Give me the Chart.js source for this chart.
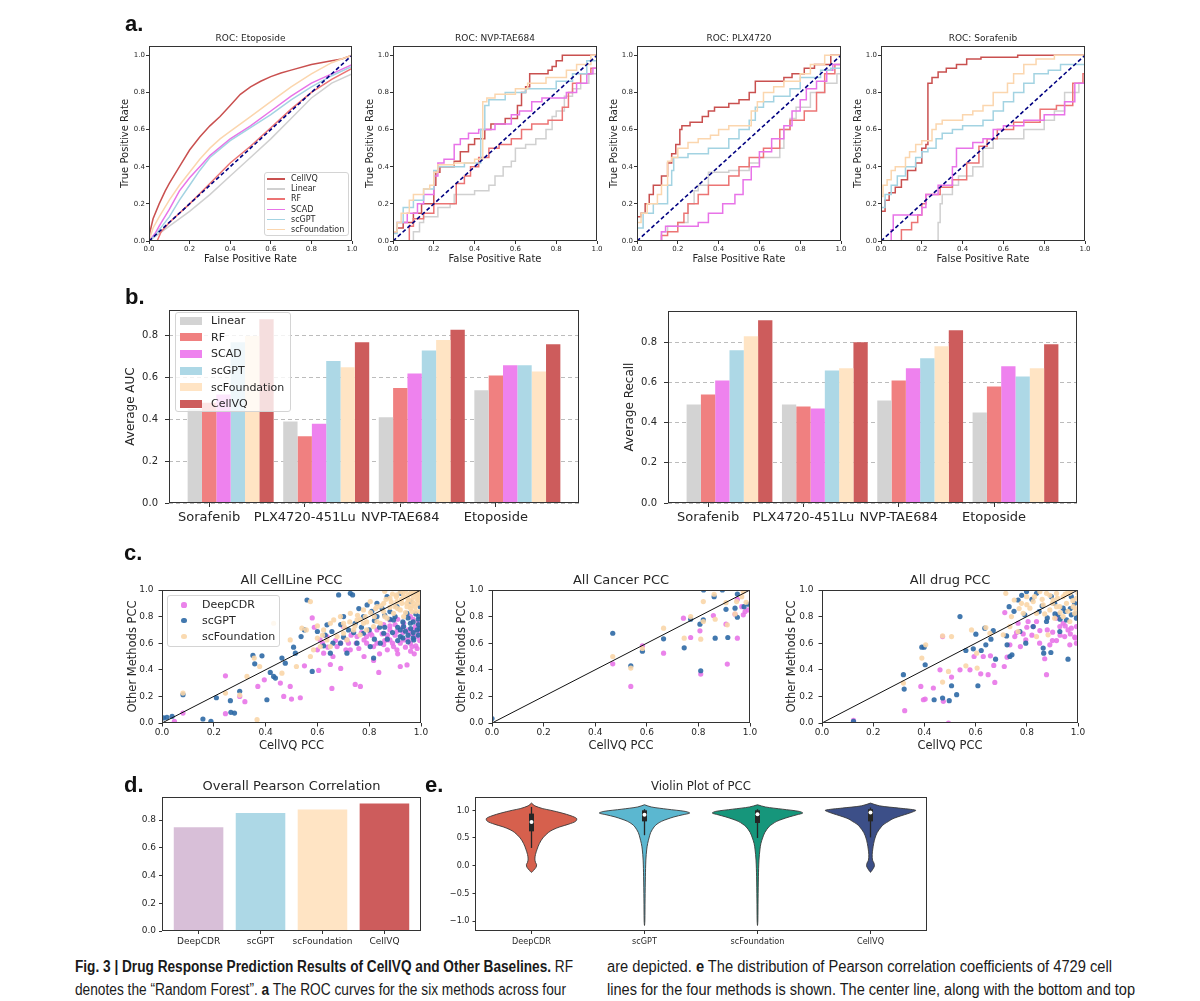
<!DOCTYPE html>
<html>
<head>
<meta charset="utf-8">
<script src="https://cdn.jsdelivr.net/npm/chart.js@4.4.1/dist/chart.umd.min.js"></script>
<style>
html,body{margin:0;padding:0;background:#fff;}
#root{position:relative;width:1200px;height:1001px;overflow:hidden;background:#fff;}
#root canvas{position:absolute;}
.letter{position:absolute;font-family:'Liberation Sans',Arial,sans-serif;font-weight:bold;font-size:22px;line-height:22px;color:#111;}
.lg{position:absolute;box-sizing:border-box;background:rgba(255,255,255,0.8);border:1px solid #d4d4d4;border-radius:3px;}
.lg span{position:absolute;white-space:nowrap;color:#262626;font-family:'DejaVu Sans',sans-serif;}
.lg i{position:absolute;display:block;}
.cap{position:absolute;white-space:nowrap;font-family:'Liberation Sans Narrow','Liberation Sans',sans-serif;font-size:16px;line-height:18px;color:#1a1a1a;transform-origin:0 50%;}
</style>
</head>
<body>
<div id="root"></div>
<script>
// ===================== DATA =====================
// panel a: ROC curves (FPR, TPR)
const rocMethods = ['CellVQ','Linear','RF','SCAD','scGPT','scFoundation'];
const rocEtoCellVQ = [[0,0],[0.005,0.05],[0.02,0.12],[0.05,0.2],[0.08,0.27],[0.1,0.31],[0.15,0.4],[0.2,0.49],[0.25,0.56],[0.3,0.62],[0.35,0.67],[0.4,0.73],[0.45,0.79],[0.5,0.83],[0.55,0.86],[0.6,0.885],[0.65,0.905],[0.7,0.92],[0.8,0.95],[0.9,0.97],[0.95,0.98],[1,1]];
const rocEtoLinear = [[0,0],[0.05,0.04],[0.1,0.08],[0.2,0.16],[0.3,0.25],[0.4,0.35],[0.5,0.45],[0.6,0.55],[0.7,0.66],[0.8,0.77],[0.85,0.81],[0.9,0.85],[1,0.9]];
const rocEtoRF = [[0,0],[0.04,0],[0.06,0.05],[0.1,0.1],[0.2,0.2],[0.3,0.31],[0.4,0.42],[0.5,0.51],[0.6,0.61],[0.7,0.71],[0.8,0.8],[0.9,0.87],[1,0.93]];
const rocEtoSCAD = [[0,0],[0.03,0.04],[0.05,0.08],[0.1,0.17],[0.15,0.27],[0.2,0.34],[0.25,0.4],[0.3,0.46],[0.4,0.55],[0.5,0.62],[0.6,0.7],[0.7,0.78],[0.8,0.85],[0.9,0.9],[1,0.95]];
const rocEtoScGPT = [[0,0],[0.03,0.03],[0.05,0.06],[0.1,0.13],[0.15,0.22],[0.2,0.3],[0.25,0.38],[0.3,0.45],[0.4,0.54],[0.5,0.61],[0.6,0.68],[0.7,0.76],[0.8,0.83],[0.9,0.89],[1,0.94]];
const rocEtoScF = [[0,0],[0.02,0.07],[0.05,0.13],[0.1,0.22],[0.15,0.3],[0.2,0.37],[0.25,0.44],[0.3,0.5],[0.35,0.55],[0.4,0.59],[0.5,0.67],[0.6,0.75],[0.7,0.83],[0.8,0.9],[0.9,0.96],[1,1]];

const rocNvpCellVQ = [[0,0],[0.02,0.05],[0.05,0.07],[0.1,0.1],[0.14,0.15],[0.2,0.2],[0.21,0.3],[0.23,0.37],[0.3,0.4],[0.33,0.43],[0.37,0.48],[0.4,0.52],[0.45,0.55],[0.48,0.6],[0.55,0.63],[0.61,0.66],[0.63,0.73],[0.65,0.8],[0.67,0.83],[0.76,0.9],[0.78,0.92],[0.8,0.94],[0.83,0.97],[1,1]];
const rocNvpLinear = [[0,0],[0.1,0],[0.13,0.05],[0.15,0.1],[0.22,0.13],[0.28,0.18],[0.3,0.2],[0.4,0.25],[0.47,0.27],[0.5,0.3],[0.54,0.35],[0.58,0.4],[0.6,0.43],[0.65,0.5],[0.7,0.52],[0.75,0.55],[0.78,0.6],[0.8,0.67],[0.84,0.7],[0.88,0.78],[0.92,0.82],[0.96,0.85],[1,0.9]];
const rocNvpRF = [[0,0],[0.08,0],[0.1,0.08],[0.15,0.12],[0.2,0.15],[0.31,0.2],[0.35,0.31],[0.38,0.35],[0.42,0.4],[0.47,0.45],[0.52,0.5],[0.58,0.52],[0.63,0.55],[0.68,0.6],[0.76,0.63],[0.83,0.65],[0.86,0.72],[0.88,0.8],[0.92,0.85],[0.97,0.9],[1,0.93]];
const rocNvpSCAD = [[0,0],[0.02,0.05],[0.07,0.1],[0.12,0.15],[0.15,0.2],[0.2,0.25],[0.22,0.35],[0.25,0.42],[0.3,0.44],[0.33,0.52],[0.37,0.55],[0.42,0.58],[0.5,0.6],[0.58,0.63],[0.62,0.68],[0.68,0.7],[0.73,0.75],[0.85,0.77],[0.9,0.8],[0.95,0.85],[0.98,0.9],[1,0.93]];
const rocNvpScGPT = [[0,0],[0.02,0.04],[0.05,0.1],[0.1,0.18],[0.15,0.22],[0.2,0.28],[0.22,0.38],[0.35,0.4],[0.43,0.42],[0.45,0.6],[0.47,0.73],[0.55,0.76],[0.65,0.8],[0.8,0.82],[0.88,0.86],[0.95,0.9],[1,0.97]];
const rocNvpScF = [[0,0],[0.02,0.05],[0.04,0.1],[0.08,0.15],[0.1,0.22],[0.15,0.25],[0.18,0.28],[0.2,0.3],[0.22,0.37],[0.3,0.41],[0.4,0.42],[0.44,0.44],[0.46,0.75],[0.5,0.77],[0.6,0.79],[0.66,0.82],[0.75,0.85],[0.85,0.88],[0.9,0.92],[0.97,0.95],[1,1]];

const rocPlxCellVQ = [[0,0],[0.02,0.13],[0.04,0.15],[0.06,0.2],[0.08,0.25],[0.12,0.3],[0.15,0.35],[0.17,0.42],[0.19,0.47],[0.21,0.52],[0.22,0.6],[0.26,0.62],[0.32,0.64],[0.35,0.67],[0.38,0.7],[0.45,0.72],[0.5,0.74],[0.55,0.76],[0.58,0.8],[0.61,0.86],[0.72,0.86],[0.76,0.88],[0.82,0.9],[0.87,0.93],[0.95,0.95],[1,1]];
const rocPlxLinear = [[0,0],[0.12,0],[0.15,0.05],[0.2,0.08],[0.25,0.1],[0.28,0.2],[0.3,0.27],[0.35,0.3],[0.45,0.37],[0.55,0.38],[0.6,0.42],[0.7,0.45],[0.72,0.5],[0.75,0.6],[0.78,0.66],[0.85,0.72],[0.92,0.8],[0.98,0.85],[1,0.9]];
const rocPlxRF = [[0,0],[0.12,0],[0.15,0.03],[0.2,0.05],[0.23,0.1],[0.25,0.15],[0.3,0.2],[0.35,0.25],[0.45,0.3],[0.5,0.35],[0.55,0.4],[0.62,0.45],[0.7,0.5],[0.75,0.6],[0.82,0.65],[0.88,0.7],[0.92,0.8],[0.97,0.9],[1,0.95]];
const rocPlxSCAD = [[0,0],[0.12,0],[0.14,0.05],[0.3,0.08],[0.35,0.1],[0.42,0.15],[0.48,0.2],[0.52,0.25],[0.56,0.33],[0.6,0.4],[0.66,0.48],[0.72,0.55],[0.76,0.62],[0.8,0.7],[0.83,0.76],[0.88,0.82],[0.93,0.86],[0.96,0.92],[1,0.95]];
const rocPlxScGPT = [[0,0],[0.03,0.07],[0.08,0.15],[0.15,0.2],[0.17,0.3],[0.18,0.38],[0.25,0.45],[0.35,0.47],[0.45,0.5],[0.5,0.55],[0.55,0.6],[0.58,0.65],[0.62,0.72],[0.67,0.75],[0.75,0.78],[0.8,0.82],[0.9,0.88],[0.95,0.92],[1,0.93]];
const rocPlxScF = [[0,0],[0.02,0.1],[0.05,0.15],[0.1,0.2],[0.12,0.25],[0.15,0.3],[0.17,0.43],[0.2,0.45],[0.25,0.5],[0.3,0.53],[0.36,0.55],[0.4,0.57],[0.45,0.6],[0.56,0.62],[0.59,0.7],[0.62,0.75],[0.67,0.8],[0.72,0.83],[0.8,0.86],[0.85,0.9],[0.92,0.95],[1,1]];

const rocSorCellVQ = [[0,0],[0.02,0.16],[0.04,0.22],[0.07,0.26],[0.1,0.29],[0.13,0.33],[0.17,0.38],[0.2,0.42],[0.22,0.5],[0.23,0.52],[0.25,0.85],[0.28,0.88],[0.32,0.91],[0.37,0.93],[0.42,0.95],[0.49,0.98],[0.67,0.99],[1,1]];
const rocSorLinear = [[0,0],[0.28,0],[0.29,0.1],[0.3,0.2],[0.35,0.25],[0.38,0.3],[0.45,0.35],[0.5,0.4],[0.55,0.5],[0.7,0.55],[0.8,0.6],[0.85,0.65],[0.9,0.7],[0.97,0.8],[1,0.85]];
const rocSorRF = [[0,0],[0.1,0],[0.15,0.06],[0.18,0.1],[0.2,0.14],[0.22,0.2],[0.29,0.25],[0.35,0.29],[0.42,0.33],[0.48,0.42],[0.52,0.51],[0.57,0.55],[0.65,0.6],[0.78,0.64],[0.86,0.71],[0.94,0.73],[0.99,0.85],[1,0.9]];
const rocSorSCAD = [[0,0],[0.05,0],[0.06,0.06],[0.2,0.14],[0.22,0.18],[0.28,0.25],[0.35,0.3],[0.37,0.4],[0.45,0.5],[0.5,0.53],[0.55,0.55],[0.6,0.6],[0.7,0.62],[0.8,0.65],[0.9,0.68],[0.95,0.75],[1,0.85]];
const rocSorScGPT = [[0,0],[0.02,0.18],[0.05,0.25],[0.08,0.3],[0.12,0.35],[0.17,0.4],[0.2,0.45],[0.23,0.48],[0.27,0.5],[0.3,0.55],[0.35,0.58],[0.4,0.6],[0.5,0.62],[0.55,0.65],[0.6,0.7],[0.65,0.75],[0.7,0.8],[0.75,0.85],[0.82,0.9],[0.88,0.92],[1,0.95]];
const rocSorScF = [[0,0],[0.01,0.24],[0.03,0.3],[0.05,0.33],[0.07,0.38],[0.12,0.4],[0.14,0.45],[0.17,0.48],[0.2,0.52],[0.25,0.54],[0.27,0.6],[0.3,0.63],[0.4,0.65],[0.45,0.68],[0.5,0.7],[0.55,0.73],[0.62,0.8],[0.65,0.85],[0.7,0.9],[0.76,0.95],[0.85,0.98],[1,1]];
const rocChance = [[0,0],[1,1]];
const rocTicks = [0,0.2,0.4,0.6,0.8,1.0];

// panel b: grouped bars
const barDrugs = ['Sorafenib','PLX4720-451Lu','NVP-TAE684','Etoposide'];
const barMethods = ['Linear','RF','SCAD','scGPT','scFoundation','CellVQ'];
const aucLinear = [0.45,0.39,0.41,0.54];
const aucRF = [0.48,0.32,0.55,0.61];
const aucSCAD = [0.52,0.38,0.62,0.66];
const aucScGPT = [0.77,0.68,0.73,0.66];
const aucScFoundation = [0.80,0.65,0.78,0.63];
const aucCellVQ = [0.88,0.77,0.83,0.76];
const recLinear = [0.49,0.49,0.51,0.45];
const recRF = [0.54,0.48,0.61,0.58];
const recSCAD = [0.61,0.47,0.67,0.68];
const recScGPT = [0.76,0.66,0.72,0.63];
const recScFoundation = [0.83,0.67,0.78,0.67];
const recCellVQ = [0.91,0.80,0.86,0.79];
const barTicks = [0,0.2,0.4,0.6,0.8];

// panel c: scatter (CellVQ PCC, other method PCC)
const cellLineDeepCDR = [[0.048,0.013],[0.081,0.075],[0.245,0.355],[0.245,0.07],[0.30,0.2],[0.32,0.16],[0.37,0.275],[0.395,0.325],[0.457,0.3],[0.47,0.2],[0.495,0.275],[0.5,0.18],[0.534,0.19],[0.58,0.79],[0.588,0.72],[0.6,0.55],[0.605,0.395],[0.624,0.525],[0.65,0.44],[0.656,0.26],[0.69,0.41],[0.746,0.29],[0.766,0.275],[0.78,0.5],[0.817,0.47],[0.837,0.38],[0.856,0.59],[0.869,0.625],[0.894,0.575],[0.92,0.425],[0.946,0.437],[0.965,0.575],[0.974,0.52],[0.985,0.56],[0.753,0.65],[0.78,0.625],[0.804,0.675],[0.83,0.7],[0.856,0.74],[0.88,0.775],[0.907,0.69],[0.933,0.75],[0.959,0.675],[0.978,0.725],[0.99,0.76],[0.933,0.625],[0.70,0.725],[0.676,0.575],[0.727,0.55],[0.637,0.65],[0.907,0.55],[0.959,0.6],[0.88,0.625],[0.817,0.575],[0.79,0.65],[0.959,0.8],[0.985,0.65],[0.714,0.625],[0.611,0.625],[0.84,0.52],[0.87,0.66],[0.92,0.6],[0.95,0.7],[0.995,0.62],[0.97,0.78],[0.9,0.74],[0.76,0.56],[0.72,0.6],[0.66,0.5],[0.55,0.43],
  [0.86,0.62],[0.88,0.7],[0.9,0.66],[0.93,0.68],[0.95,0.63],[0.97,0.66],[0.99,0.69],[0.98,0.58],[0.96,0.54],[0.94,0.57],[0.91,0.52],[0.89,0.6],[0.87,0.55],[0.85,0.67],[0.83,0.6],[0.81,0.66],[0.79,0.6],[0.77,0.68],[0.75,0.6],[0.73,0.66],[0.71,0.55],[0.69,0.6],[0.67,0.62],[0.64,0.57],[0.62,0.6],[0.99,0.73],[0.97,0.7],[0.93,0.72],[0.91,0.78],[0.88,0.73]];
const cellLineScGPT = [[0.006,0.038],[0.019,0.043],[0.039,0.05],[0.081,0.213],[0.158,0.03],[0.189,0.013],[0.21,0.19],[0.264,0.168],[0.30,0.238],[0.266,0.08],[0.28,0.075],[0.351,0.508],[0.358,0.445],[0.386,0.505],[0.405,0.175],[0.418,0.38],[0.431,0.35],[0.438,0.338],[0.463,0.488],[0.476,0.45],[0.508,0.57],[0.515,0.525],[0.537,0.65],[0.55,0.7],[0.56,0.925],[0.58,0.388],[0.6,0.688],[0.624,0.58],[0.65,0.525],[0.656,0.688],[0.682,0.963],[0.689,0.6],[0.701,0.645],[0.727,0.975],[0.736,0.963],[0.753,0.6],[0.778,0.675],[0.792,0.888],[0.817,0.488],[0.83,0.8],[0.869,0.95],[0.907,0.875],[0.92,0.65],[0.946,0.825],[0.959,0.75],[0.972,0.625],[0.991,0.8],[0.985,0.7],[0.933,0.725],[0.894,0.775],[0.856,0.675],[0.843,0.6],[0.804,0.575],[0.746,0.75],[0.701,0.8],[0.637,0.738],[0.88,0.838],[0.959,0.913],[0.997,0.875],[0.92,0.975],[0.714,0.525],[0.778,0.8],[0.97,0.68],[0.99,0.74],[0.95,0.66],[0.91,0.62],[0.86,0.72],[0.82,0.63],[0.77,0.72],[0.74,0.68],
  [0.93,0.76],[0.95,0.79],[0.97,0.76],[0.99,0.78],[0.98,0.82],[0.96,0.71],[0.94,0.69],[0.92,0.7],[0.9,0.8],[0.88,0.78],[0.86,0.81],[0.84,0.72],[0.82,0.77],[0.8,0.7],[0.99,0.66],[0.97,0.64],[0.95,0.61],[0.93,0.64],[0.91,0.72],[0.89,0.68],[0.87,0.63],[0.85,0.86],[0.83,0.9],[0.81,0.84],[0.76,0.86],[0.72,0.7],[0.69,0.74],[0.66,0.6],[0.63,0.66],[0.995,0.71]];
const cellLineScFoundation = [[0.081,0.225],[0.245,0.225],[0.3,0.21],[0.328,0.35],[0.356,0.488],[0.367,0.025],[0.377,0.425],[0.431,0.75],[0.463,0.375],[0.495,0.625],[0.519,0.425],[0.54,0.713],[0.557,0.7],[0.573,0.913],[0.6,0.638],[0.624,0.7],[0.65,0.75],[0.676,0.65],[0.701,0.75],[0.727,0.825],[0.753,0.775],[0.778,0.85],[0.804,0.913],[0.83,0.875],[0.856,0.9],[0.88,0.938],[0.907,0.963],[0.933,0.95],[0.959,0.975],[0.985,0.963],[0.972,0.9],[0.946,0.875],[0.92,0.85],[0.894,0.825],[0.869,0.788],[0.843,0.75],[0.817,0.725],[0.79,0.7],[0.765,0.663],[0.74,0.7],[0.714,0.625],[0.689,0.8],[0.663,0.775],[0.637,0.625],[0.611,0.575],[0.585,0.55],[0.573,0.5],[0.991,0.925],[0.978,0.875],[0.991,0.988],[0.952,0.925],[0.926,0.9],[0.907,0.913],[0.965,0.838],[0.997,0.838],[0.933,0.8],[0.9,0.875],[0.778,0.75],[0.83,0.763],[0.856,0.838],[0.701,0.675],[0.65,0.575],[0.94,0.99],[0.97,0.95],[0.99,0.9],[0.95,0.93],[0.92,0.99],[0.98,0.98],[0.89,0.97],[0.86,0.99],[0.96,0.88],[0.995,0.95],
  [0.93,0.98],[0.95,0.96],[0.97,0.99],[0.99,0.97],[0.985,0.93],[0.965,0.92],[0.945,0.9],[0.925,0.93],[0.905,0.95],[0.885,0.91],[0.865,0.93],[0.845,0.88],[0.825,0.86],[0.805,0.83],[0.785,0.8],[0.765,0.78],[0.745,0.73],[0.725,0.76],[0.705,0.72],[0.96,0.86],[0.98,0.84],[0.94,0.83],[0.91,0.86],[0.88,0.87],[0.86,0.8],[0.82,0.8],[0.79,0.76],[0.755,0.81],[0.62,0.66],[0.6,0.73]];
const cancerDeepCDR = [[0.468,0.445],[0.538,0.275],[0.583,0.58],[0.665,0.525],[0.742,0.788],[0.77,0.643],[0.806,0.693],[0.809,0.368],[0.858,0.808],[0.907,0.743],[0.912,0.443],[0.942,0.818],[0.951,0.93],[0.951,0.638],[0.968,0.875],[0.974,0.813],[0.981,0.838],[0.994,0.85]];
const cancerScGPT = [[0,0.033],[0.468,0.675],[0.538,0.43],[0.583,0.54],[0.665,0.633],[0.745,0.565],[0.77,0.78],[0.806,0.743],[0.819,0.775],[0.809,0.393],[0.861,0.95],[0.865,0.638],[0.893,1.0],[0.907,0.855],[0.914,0.643],[0.942,0.863],[0.951,0.97],[0.951,0.795],[0.977,0.875],[0.994,0.893],[0.82,1.0]];
const cancerScFoundation = [[0.468,0.5],[0.538,0.413],[0.583,0.56],[0.665,0.713],[0.745,0.638],[0.77,0.8],[0.809,0.63],[0.819,0.763],[0.819,0.913],[0.861,0.968],[0.865,0.78],[0.907,0.905],[0.912,0.738],[0.942,0.82],[0.948,0.913],[0.974,0.988],[0.985,0.908],[0.968,0.95]];
const drugDeepCDR = [[0.123,0.02],[0.323,0.093],[0.386,0.275],[0.396,0.175],[0.403,0.18],[0.435,0.263],[0.461,0.4],[0.471,0.65],[0.474,0.163],[0.494,0.0],[0.506,0.345],[0.539,0.4],[0.578,0.4],[0.594,0.5],[0.62,0.37],[0.63,0.5],[0.649,0.363],[0.658,0.505],[0.671,0.433],[0.675,0.305],[0.712,0.425],[0.714,0.83],[0.723,0.495],[0.734,0.588],[0.753,0.65],[0.766,0.75],[0.775,0.575],[0.786,0.67],[0.796,0.625],[0.805,0.763],[0.825,0.725],[0.838,0.763],[0.851,0.695],[0.87,0.483],[0.877,0.363],[0.89,0.588],[0.901,0.683],[0.916,0.62],[0.929,0.725],[0.948,0.65],[0.968,0.588],[0.974,0.713],[0.987,0.645],[0.994,0.6],[0.961,0.7],[0.916,0.788],[0.942,0.75],[0.994,0.725],
  [0.93,0.66],[0.95,0.73],[0.97,0.67],[0.99,0.64],[0.9,0.62],[0.88,0.7],[0.85,0.6],[0.82,0.66],[0.8,0.72],[0.76,0.68]];
const drugScGPT = [[0.123,0.013],[0.318,0.363],[0.321,0.255],[0.39,0.57],[0.399,0.57],[0.403,0.438],[0.438,0.175],[0.471,0.188],[0.497,0.168],[0.506,0.28],[0.526,0.213],[0.539,0.8],[0.562,0.545],[0.591,0.558],[0.601,0.668],[0.609,0.28],[0.622,0.545],[0.636,0.713],[0.64,0.588],[0.66,0.63],[0.669,0.695],[0.678,0.48],[0.721,0.655],[0.723,0.588],[0.734,0.5],[0.731,0.875],[0.742,0.513],[0.766,0.925],[0.773,0.688],[0.792,0.813],[0.796,0.6],[0.799,0.988],[0.838,0.975],[0.848,0.838],[0.864,0.563],[0.866,0.525],[0.877,0.763],[0.894,0.53],[0.909,0.9],[0.922,0.813],[0.942,0.863],[0.961,0.48],[0.974,0.813],[0.987,0.9],[0.994,0.788],[0.955,0.775],[0.929,0.688],[0.825,0.725],[0.896,0.95],[0.974,0.95],
  [0.95,0.84],[0.97,0.86],[0.99,0.82],[0.93,0.78],[0.91,0.82],[0.88,0.79],[0.86,0.88],[0.82,0.93],[0.78,0.96],[0.75,0.84]];
const drugScFoundation = [[0.318,0.3],[0.39,0.488],[0.405,0.588],[0.471,0.655],[0.471,0.308],[0.494,0.388],[0.506,0.65],[0.562,0.43],[0.584,0.7],[0.604,0.525],[0.606,0.413],[0.64,0.718],[0.656,0.675],[0.708,0.663],[0.718,0.975],[0.734,0.725],[0.751,0.925],[0.766,0.688],[0.779,0.9],[0.786,0.825],[0.799,0.95],[0.812,0.863],[0.825,0.913],[0.838,0.825],[0.851,0.988],[0.864,0.888],[0.877,0.975],[0.89,0.85],[0.903,0.925],[0.916,0.975],[0.929,0.875],[0.942,0.95],[0.955,0.9],[0.968,0.975],[0.981,0.875],[0.994,0.938],[0.987,0.825],[0.968,0.763],[0.942,0.8],[0.916,0.875],[0.838,0.65],[0.883,0.663],[0.909,0.788],[1.0,0.975],[0.974,1.0],[0.961,0.988],
  [0.83,0.95],[0.86,0.93],[0.89,0.96],[0.92,0.94],[0.95,0.97],[0.98,0.92],[0.99,0.86],[0.96,0.84],[0.93,0.83],[0.9,0.9],[0.87,0.82],[0.8,0.89],[0.77,0.86],[0.74,0.8]];
const diagLine = [[0,0],[1,1]];
const pccTicks = [0,0.2,0.4,0.6,0.8,1.0];

// panel d: overall Pearson correlation
const overallNames = ['DeepCDR','scGPT','scFoundation','CellVQ'];
const overallPCC = [0.749,0.851,0.876,0.921];
const overallTicks = [0,0.2,0.4,0.6,0.8];

// panel e: violin outlines [PCC, half width] from top tip to bottom tip, and box stats
const violinNames = ['DeepCDR','scGPT','scFoundation','CellVQ'];
const violinDeepCDR = [[1.13,0],[1.08,0.03],[1.03,0.1],[1.0,0.17],[0.95,0.27],[0.9,0.35],[0.85,0.4],[0.8,0.39],[0.75,0.33],[0.7,0.25],[0.65,0.19],[0.6,0.15],[0.5,0.1],[0.4,0.07],[0.3,0.05],[0.2,0.035],[0.12,0.03],[0.06,0.035],[0.02,0.045],[-0.03,0.04],[-0.08,0.02],[-0.12,0]];
const violinScGPT = [[1.1,0],[1.06,0.06],[1.02,0.2],[0.98,0.36],[0.95,0.4],[0.92,0.34],[0.88,0.26],[0.84,0.2],[0.8,0.15],[0.75,0.11],[0.7,0.085],[0.6,0.055],[0.5,0.04],[0.4,0.028],[0.3,0.02],[0.1,0.012],[-0.2,0.008],[-0.6,0.005],[-1.0,0.003],[-1.08,0]];
const violinScFoundation = [[1.1,0],[1.06,0.07],[1.02,0.22],[0.98,0.37],[0.95,0.4],[0.92,0.35],[0.88,0.28],[0.84,0.22],[0.8,0.17],[0.75,0.13],[0.7,0.1],[0.6,0.065],[0.5,0.045],[0.4,0.03],[0.3,0.022],[0.1,0.013],[-0.2,0.008],[-0.6,0.005],[-1.0,0.003],[-1.08,0]];
const violinCellVQ = [[1.13,0],[1.08,0.08],[1.04,0.25],[1.0,0.4],[0.96,0.36],[0.92,0.3],[0.88,0.24],[0.84,0.19],[0.8,0.16],[0.75,0.12],[0.7,0.095],[0.6,0.06],[0.5,0.04],[0.4,0.028],[0.3,0.02],[0.2,0.015],[0.1,0.018],[0.05,0.03],[0.0,0.035],[-0.05,0.025],[-0.1,0.008],[-0.12,0]];
const whiskerLow = [0.32,0.55,0.50,0.51];
const whiskerHigh = [1.06,1.02,1.02,1.05];
const boxQ1 = [0.62,0.80,0.77,0.80];
const boxQ3 = [0.94,1.00,1.00,1.02];
const boxMedian = [0.79,0.92,0.93,0.96];
const violinTicks = [-1.0,-0.5,0,0.5,1.0];

// ===================== STYLE / HELPERS =====================
const FONT = "'DejaVu Sans', sans-serif";
const FONT_C = "'DejaVu Sans Condensed', 'DejaVu Sans', sans-serif";
const AXC = '#333333';
const TXT = '#262626';
const barColors = {Linear:'#d3d3d3', RF:'#f08080', SCAD:'#ee82ee', scGPT:'#add8e6', scFoundation:'#ffe4c4', CellVQ:'#cd5c5c'};
const rocColors = {CellVQ:'#c9504f', Linear:'#d0d0d0', RF:'#ec7474', SCAD:'#e873e8', scGPT:'#a3d3e2', scFoundation:'#fbd6ae'};
const scatColors = {DeepCDR:'rgba(232,118,232,0.9)', scGPT:'rgba(45,105,165,0.9)', scFoundation:'rgba(250,214,168,0.9)'};
const overallColors = ['#d8bfd8','#add8e6','#ffe4c4','#cd5c5c'];
const violinColors = ['#d6604d','#5bb7d0','#16967b','#3c4f88'];

Chart.defaults.animation = false;
Chart.defaults.font.family = FONT;
Chart.defaults.color = TXT;
Chart.defaults.events = [];
const root = document.getElementById('root');
const P = a => a.map(p => ({x: p[0], y: p[1]}));

const framePlugin = {
  id: 'frame',
  afterDatasetsDraw(chart) {
    const a = chart.chartArea, ctx = chart.ctx;
    ctx.save();
    ctx.strokeStyle = AXC; ctx.lineWidth = 1;
    const l = Math.round(a.left) + 0.5, t = Math.round(a.top) + 0.5;
    const r = Math.round(a.right) - 0.5, b = Math.round(a.bottom) - 0.5;
    ctx.strokeRect(l, t, r - l, b - t);
    ctx.restore();
  }
};

function axisCfg(o, pos, size) {
  return {
    type: 'linear', position: pos, min: o.min, max: o.max, bounds: 'data', offset: false,
    afterBuildTicks: s => { s.ticks = o.ticks.map(v => ({value: v})); },
    afterFit: s => { if (pos === 'left') s.width = size; else s.height = size; },
    ticks: {autoSkip: false, maxRotation: 0, minRotation: 0, padding: o.pad ?? 2, color: TXT,
            font: {family: o.family || FONT, size: o.fs}, callback: o.fmt || (v => v.toFixed(1))},
    grid: {display: true, offset: false, drawOnChartArea: !!o.gridOn, drawTicks: true,
           tickLength: o.tl ?? 3, tickWidth: 1, tickColor: AXC,
           color: o.gridColor || 'rgba(0,0,0,0)', lineWidth: 1},
    border: {display: false, dash: o.dash || []},
    title: o.title ? {display: true, text: o.title, color: TXT, padding: 0,
                      font: {family: o.family || FONT, size: o.tfs}} : {display: false}
  };
}

function makeChart(box, o) {
  const tl = o.title ? o.title.size * 1.2 : 0;
  const mT = o.title ? Math.round(box.t - o.title.y + tl / 2 + 1) : (o.mT ?? 8);
  const mL = o.y.title ? Math.round(box.l - o.y.titleX + o.y.tfs * 0.6) : (o.mL ?? 40);
  const mB = o.x.title ? Math.round(o.x.titleY - box.b + o.x.tfs * 0.6) : (o.mB ?? 24);
  const mR = o.mR ?? 14;
  const left = box.l - mL, top = box.t - mT;
  const w = box.r - box.l + mL + mR, h = box.b - box.t + mT + mB;
  const c = document.createElement('canvas');
  c.width = w; c.height = h;
  Object.assign(c.style, {left: left + 'px', top: top + 'px', width: w + 'px', height: h + 'px'});
  root.appendChild(c);
  const plugins = {legend: {display: false}, tooltip: {enabled: false}};
  if (o.title) {
    const pt = Math.max(0, o.title.y - top - tl / 2);
    plugins.title = {display: true, text: o.title.text, fullSize: false, color: TXT,
      font: {family: o.title.family || FONT, size: o.title.size, weight: 'normal'},
      padding: {top: pt, bottom: Math.max(0, mT - tl - pt)}};
  }
  return new Chart(c, {
    type: o.type,
    data: {datasets: o.datasets},
    options: {
      responsive: false, maintainAspectRatio: false, animation: false, devicePixelRatio: 1, events: [],
      layout: {padding: {left: 0, bottom: 0, right: mR, top: o.title ? 0 : mT}},
      scales: {x: axisCfg(o.x, 'bottom', mB), y: axisCfg(o.y, 'left', mL)},
      plugins
    },
    plugins: [framePlugin]
  });
}

function addLegend(x, y, w, h, rows, o) {
  const d = document.createElement('div'); d.className = 'lg';
  Object.assign(d.style, {left: x + 'px', top: y + 'px', width: w + 'px', height: h + 'px'});
  rows.forEach(r => {
    const ry = r.y - y - 1;
    const sw = document.createElement('i');
    if (o.kind === 'line') {
      Object.assign(sw.style, {left: (o.sx - x - 1) + 'px', width: o.sw + 'px', top: (ry - 0.75) + 'px', height: '1.5px', background: r.color});
    } else if (o.kind === 'rect') {
      Object.assign(sw.style, {left: (o.sx - x - 1) + 'px', width: o.sw + 'px', top: (ry - o.sh / 2) + 'px', height: o.sh + 'px', background: r.color});
    } else {
      Object.assign(sw.style, {left: (o.sx - x - 1 - o.r) + 'px', width: 2 * o.r + 'px', top: (ry - o.r) + 'px', height: 2 * o.r + 'px', background: r.color, borderRadius: '50%'});
    }
    d.appendChild(sw);
    const t = document.createElement('span');
    t.textContent = r.label;
    Object.assign(t.style, {left: (o.tx - x - 1) + 'px', top: (ry - o.fs * 0.6) + 'px', fontSize: o.fs + 'px', lineHeight: (o.fs * 1.2) + 'px'});
    d.appendChild(t);
  });
  root.appendChild(d);
}

function addLetter(txt, x, baseline) {
  const d = document.createElement('div'); d.className = 'letter';
  d.textContent = txt;
  Object.assign(d.style, {left: x + 'px', top: (baseline - 18.6) + 'px'});
  root.appendChild(d);
}

// ===================== PANEL a: ROC =====================
function rocChart(box, titleText, ylabX, series, stepped) {
  const order = {CellVQ: 6, Linear: 5, RF: 4, SCAD: 3, scGPT: 2, scFoundation: 1};
  const ds = rocMethods.map((m, k) => ({
    label: m, data: P(series[k]), borderColor: rocColors[m], borderWidth: 1.5,
    pointRadius: 0, fill: false, stepped: stepped ? 'after' : false, tension: 0, order: order[m]
  }));
  ds.push({label: 'chance', data: P(rocChance), borderColor: '#000080', borderWidth: 1.6,
           borderDash: [4, 2.5], pointRadius: 0, fill: false, order: 0});
  makeChart(box, {
    type: 'line', datasets: ds, mR: 10,
    title: {text: titleText, y: 39, size: 9},
    x: {min: 0, max: 1, ticks: rocTicks, fs: 7, pad: 1, tl: 3, title: 'False Positive Rate', titleY: 258.5, tfs: 10},
    y: {min: 0, max: 1.05, ticks: rocTicks, fs: 7, pad: 1, tl: 3, title: 'True Positive Rate', titleX: ylabX, tfs: 10}
  });
}
rocChart({l:149,t:46,r:352,b:241}, 'ROC: Etoposide', 125,
  [rocEtoCellVQ, rocEtoLinear, rocEtoRF, rocEtoSCAD, rocEtoScGPT, rocEtoScF], false);
rocChart({l:393,t:46,r:597,b:241}, 'ROC: NVP-TAE684', 370,
  [rocNvpCellVQ, rocNvpLinear, rocNvpRF, rocNvpSCAD, rocNvpScGPT, rocNvpScF], true);
rocChart({l:637,t:46,r:841,b:241}, 'ROC: PLX4720', 614,
  [rocPlxCellVQ, rocPlxLinear, rocPlxRF, rocPlxSCAD, rocPlxScGPT, rocPlxScF], true);
rocChart({l:881,t:46,r:1085,b:241}, 'ROC: Sorafenib', 858,
  [rocSorCellVQ, rocSorLinear, rocSorRF, rocSorSCAD, rocSorScGPT, rocSorScF], true);
addLegend(264, 172, 85, 64, rocMethods.map((m, k) => ({label: m, color: rocColors[m], y: 179 + k * 10.1})),
  {kind: 'line', sx: 267, sw: 18, tx: 291, fs: 8});

// ===================== PANEL b: grouped bars =====================
function groupedBars(box, ylabel, ylabX, series) {
  const vmax = Math.max(...series.flat());
  const ds = barMethods.map((m, k) => ({
    label: m, data: series[k].map((v, i) => ({x: i, y: v})), backgroundColor: barColors[m],
    borderWidth: 0, categoryPercentage: 0.9, barPercentage: 1.0
  }));
  makeChart(box, {
    type: 'bar', datasets: ds, mT: 8, mB: 30, mR: 14,
    x: {min: -0.645, max: 3.645, ticks: barDrugs.map((d, i) => i - 0.225), fs: 13, pad: 3, tl: 4,
        fmt: (v, i) => barDrugs[i]},
    y: {min: 0, max: vmax * 1.05, ticks: barTicks, fs: 10, pad: 7, tl: 4, title: ylabel, titleX: ylabX, tfs: 12,
        gridOn: true, gridColor: 'rgba(176,176,176,0.85)', dash: [4, 3]}
  });
}
groupedBars({l:169,t:305,r:579,b:503}, 'Average AUC', 131.5,
  [aucLinear, aucRF, aucSCAD, aucScGPT, aucScFoundation, aucCellVQ]);
groupedBars({l:668,t:306,r:1077,b:503}, 'Average Recall', 630,
  [recLinear, recRF, recSCAD, recScGPT, recScFoundation, recCellVQ]);
addLegend(175, 312, 116, 100, barMethods.map((m, k) => ({label: m, color: barColors[m], y: 320.7 + k * 16.6})),
  {kind: 'rect', sx: 179.5, sw: 22, sh: 8, tx: 211, fs: 11});

// ===================== PANEL c: scatter =====================
function scatterChart(box, titleText, ylabX, dd, gg, ff) {
  const mk = (lab, arr, order) => ({label: lab, data: P(arr), backgroundColor: scatColors[lab],
    borderWidth: 0, pointRadius: 2.6, order});
  makeChart(box, {
    type: 'scatter', mR: 14,
    datasets: [
      {label: 'diag', data: P(diagLine), showLine: true, borderColor: '#111', borderWidth: 1, pointRadius: 0, order: 0},
      mk('scFoundation', ff, 1), mk('scGPT', gg, 2), mk('DeepCDR', dd, 3)
    ],
    title: {text: titleText, y: 580.5, size: 13},
    x: {min: 0, max: 1, ticks: pccTicks, fs: 9, pad: 1, tl: 3.5, title: 'CellVQ PCC', titleY: 746, tfs: 11.5},
    y: {min: 0, max: 1, ticks: pccTicks, fs: 9, pad: 5, tl: 3.5, title: 'Other Methods PCC', titleX: ylabX, tfs: 11.5}
  });
}
scatterChart({l:162,t:590,r:421,b:723}, 'All CellLine PCC', 132.5, cellLineDeepCDR, cellLineScGPT, cellLineScFoundation);
scatterChart({l:492,t:590,r:750,b:723}, 'All Cancer PCC', 462, cancerDeepCDR, cancerScGPT, cancerScFoundation);
scatterChart({l:822,t:590,r:1078,b:723}, 'All drug PCC', 792, drugDeepCDR, drugScGPT, drugScFoundation);
addLegend(167, 595, 113, 52, ['DeepCDR','scGPT','scFoundation'].map((m, k) => ({label: m, color: scatColors[m], y: 605 + k * 15.8})),
  {kind: 'dot', sx: 184, r: 2.6, tx: 202, fs: 11});

// ===================== PANEL d: overall bars =====================
makeChart({l:162,t:797,r:421,b:931}, {
  type: 'bar', mL: 40, mB: 22, mR: 14,
  datasets: [{label: 'Overall', data: overallPCC.map((v, i) => ({x: i, y: v})), backgroundColor: overallColors,
              borderWidth: 0, barPercentage: 0.8, categoryPercentage: 1.0}],
  title: {text: 'Overall Pearson Correlation', y: 786.5, size: 13},
  x: {min: -0.59, max: 3.59, ticks: [0,1,2,3], fs: 9, pad: 2, tl: 3, fmt: (v, i) => overallNames[i]},
  y: {min: 0, max: Math.max(...overallPCC) * 1.05, ticks: overallTicks, fs: 9, pad: 3, tl: 3}
});

// ===================== PANEL e: violins =====================
function violinPoly(i, prof) {
  const right = prof.map(p => ({x: i + p[1], y: p[0]}));
  const left = prof.slice(0, -1).reverse().map(p => ({x: i - p[1], y: p[0]}));
  return right.concat(left);
}
const violinProfiles = [violinDeepCDR, violinScGPT, violinScFoundation, violinCellVQ];
const eDatasets = [];
violinProfiles.forEach((prof, i) => {
  eDatasets.push({label: violinNames[i], data: violinPoly(i, prof), borderColor: '#3a3a3a', borderWidth: 0.9,
    backgroundColor: violinColors[i], fill: 'shape', pointRadius: 0, tension: 0.3, order: 5});
  eDatasets.push({label: 'whisker', data: [{x: i, y: whiskerLow[i]}, {x: i, y: whiskerHigh[i]}],
    borderColor: '#262626', borderWidth: 1.3, pointRadius: 0, fill: false, order: 3});
  eDatasets.push({label: 'box', data: [{x: i, y: boxQ1[i]}, {x: i, y: boxQ3[i]}],
    borderColor: '#262626', borderWidth: 5, borderCapStyle: 'butt', pointRadius: 0, fill: false, order: 2});
  eDatasets.push({label: 'median', data: [{x: i, y: boxMedian[i]}], showLine: false,
    pointRadius: 2, pointBackgroundColor: '#ffffff', pointBorderWidth: 0, order: 1});
});
makeChart({l:475,t:797,r:927,b:931}, {
  type: 'line', datasets: eDatasets, mL: 40, mB: 22, mR: 14,
  title: {text: 'Violin Plot of PCC', y: 787, size: 13, family: FONT_C},
  x: {min: -0.5, max: 3.5, ticks: [0,1,2,3], fs: 9, pad: 2, tl: 3, family: FONT_C, fmt: (v, i) => violinNames[i]},
  y: {min: -1.18, max: 1.24, ticks: violinTicks, fs: 9, pad: 3, tl: 2.5, family: FONT_C,
      fmt: v => (v < 0 ? '\u2212' : '') + Math.abs(v).toFixed(1)}
});

// ===================== LETTERS & CAPTION =====================
addLetter('a.', 125, 31.5);
addLetter('b.', 125, 305);
addLetter('c.', 124, 561);
addLetter('d.', 124, 793);
addLetter('e.', 425, 793);

const captionLines = [
  {x: 75, y: 966.5, w: 498, html: '<b>Fig. 3 | Drug Response Prediction Results of CellVQ and Other Baselines.</b> RF'},
  {x: 75, y: 990, w: 491, html: 'denotes the \u201cRandom Forest\u201d. <b>a</b> The ROC curves for the six methods across four'},
  {x: 607, y: 966.5, w: 505, html: 'are depicted. <b>e</b> The distribution of Pearson correlation coefficients of 4729 cell'},
  {x: 607, y: 990, w: 528, html: 'lines for the four methods is shown. The center line, along with the bottom and top'}
];
captionLines.forEach(c => {
  const d = document.createElement('div'); d.className = 'cap';
  d.innerHTML = c.html;
  Object.assign(d.style, {left: c.x + 'px', top: (c.y - 9) + 'px'});
  root.appendChild(d);
  const wNow = d.getBoundingClientRect().width;
  if (wNow > 0) d.style.transform = 'scaleX(' + (c.w / wNow).toFixed(4) + ')';
});
</script>
</body>
</html>
